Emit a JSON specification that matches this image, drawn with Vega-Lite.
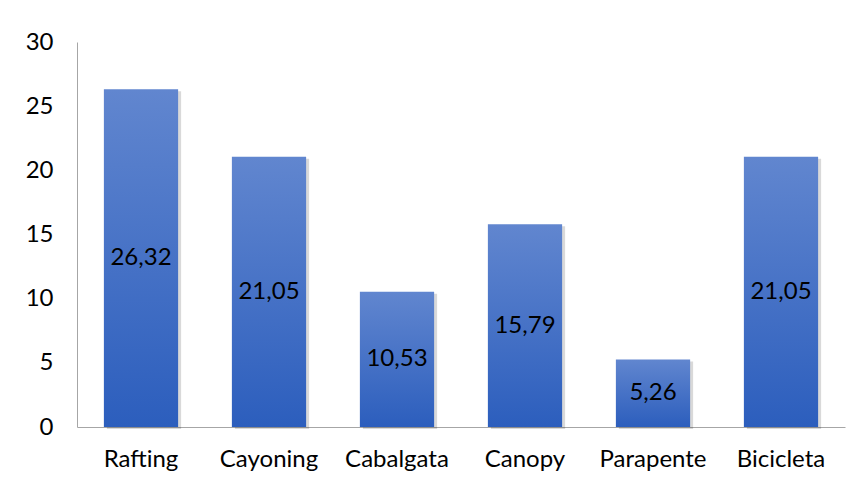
{
  "$schema": "https://vega.github.io/schema/vega-lite/v6.json",
  "width": 768,
  "height": 385,
  "autosize": "none",
  "padding": {"left": 77, "top": 42, "right": 17, "bottom": 59},
  "background": "white",
  "config": {
    "view": {"stroke": null},
    "locale": {"number": {"decimal": ",", "thousands": ".", "grouping": [3], "currency": ["", " €"]}},
    "font": "Lato"
  },
  "data": {"values": [
    {"actividad": "Rafting", "valor": 26.32},
    {"actividad": "Cayoning", "valor": 21.05},
    {"actividad": "Cabalgata", "valor": 10.53},
    {"actividad": "Canopy", "valor": 15.79},
    {"actividad": "Parapente", "valor": 5.26},
    {"actividad": "Bicicleta", "valor": 21.05}
  ]},
  "encoding": {
    "x": {"field": "actividad", "type": "nominal", "sort": null,
      "scale": {"paddingInner": 0.42, "paddingOuter": 0.21},
      "axis": {"title": null, "labelAngle": 0, "ticks": false, "domainColor": "#a6a6a6", "domainWidth": 1,
        "labelFontSize": 24, "labelColor": "#000", "labelPadding": 20, "labelFont": "Lato"}},
    "y": {"field": "valor", "type": "quantitative",
      "scale": {"domain": [0, 30], "nice": false},
      "axis": {"title": null, "values": [0, 5, 10, 15, 20, 25, 30], "grid": false, "ticks": false,
        "domainColor": "#a6a6a6", "labelFontSize": 24, "labelColor": "#000", "labelPadding": 24, "labelFont": "Lato"}}
  },
  "layer": [
    {"mark": {"type": "bar", "color": "#000", "opacity": 0.15, "xOffset": 3, "yOffset": 2}},
    {"mark": {"type": "bar", "color": {"gradient": "linear", "x1": 0, "y1": 0, "x2": 0, "y2": 1,
      "stops": [{"offset": 0, "color": "#6186CF"}, {"offset": 1, "color": "#2C5EBD"}]}}},
    {"transform": [{"calculate": "datum.valor / 2", "as": "mitad"}],
      "mark": {"type": "text", "fontSize": 24, "color": "#000", "font": "Lato", "baseline": "middle"},
      "encoding": {"y": {"field": "mitad", "type": "quantitative"},
        "text": {"field": "valor", "type": "quantitative", "format": ".2f"}}}
  ]
}
